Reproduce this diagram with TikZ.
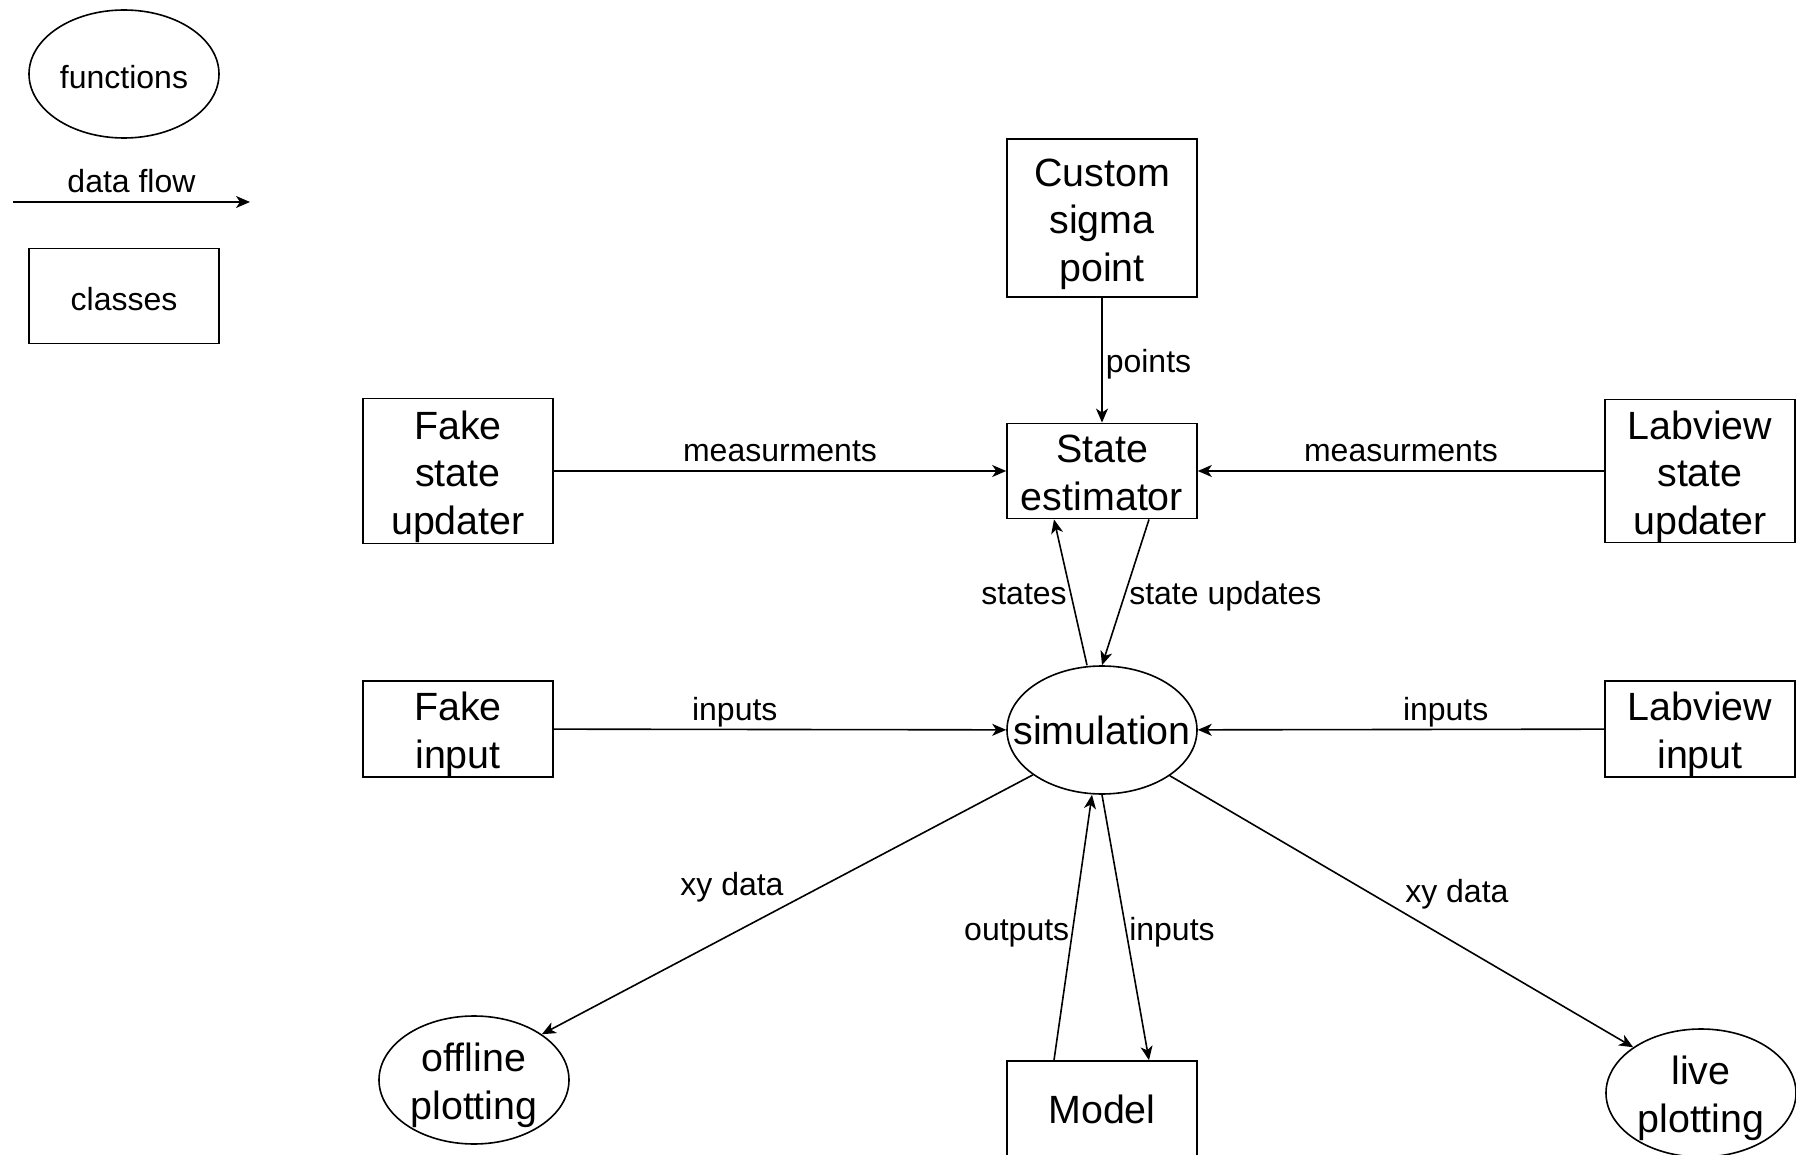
\documentclass[tikz,border=0pt]{standalone}
\usepackage{fontspec}
\setmainfont{Liberation Sans}
\usetikzlibrary{shapes.geometric,arrows.meta}
\newcommand{\boxfont}{\fontsize{19.7}{23.8}\selectfont}
\newcommand{\lblfont}{\fontsize{16}{19}\selectfont}
\newcommand{\fstrut}{\rule{0pt}{1em}}
\newcommand{\lstrut}{\rule[-0.21em]{0pt}{0.21em}}

\begin{document}
\begin{tikzpicture}[x=0.5pt, y=-0.5pt, line width=0.8pt,
	>={Stealth[length=7pt, width=6pt, inset=2pt]},
	cls/.style={draw, rectangle, minimum width=95pt, align=center, font=\boxfont, inner sep=0pt},
	fnshape/.style={draw, ellipse, minimum width=95pt, minimum height=64pt, inner sep=0pt},
	fn/.style={fnshape, label={[align=center, font=\boxfont]center:#1}},
	lbl/.style={font=\lblfont, text height=11.5pt, text depth=3.5pt, inner xsep=1.5pt, inner ysep=3pt, yshift=-2.3pt}]
	\useasboundingbox (0,0) rectangle (1796,1155);
	% legend
	\node[fnshape, font=\lblfont] (keyfn) at (124,74) {\rule{0pt}{0.92em}functions};
	\coordinate (flowA) at (13,202);
	\coordinate (flowB) at (250,202);
	\draw[->] (flowA) -- node[lbl, above] {data flow} (flowB);
	\node[cls, minimum height=47.5pt, font=\lblfont] (keycls) at (124,296) {\rule{0pt}{0.92em}classes};
	% classes and functions
	\node[cls, minimum height=79pt] (sigma) at (1102,218) {\fstrut Custom\\sigma\\point};
	\node[cls, minimum height=47.5pt] (est) at (1102,471) {\fstrut State\\estimator\lstrut};
	\node[cls, minimum height=72.5pt] (fsu) at (458,471) {\fstrut Fake\\state\\updater};
	\node[cls, minimum height=70pt] (lsu) at (1700,471) {\fstrut Labview\\state\\updater};
	\node[fn=simulation] (sim) at (1102,730) {};
	\node[cls, minimum height=48pt] (fin) at (458,729) {\fstrut Fake\\input};
	\node[cls, minimum height=48pt] (lin) at (1700,729) {\fstrut Labview\\input};
	\node[fn={\fstrut offline\\plotting}] (off) at (474,1080) {};
	\node[cls, minimum height=48pt] (model) at (1102,1109) {Model};
	\node[fn={\fstrut live\\plotting}] (live) at (1701,1093) {};
	% data flow
	\draw[->] (sigma) -- node[lbl, right] {points} (est);
	\draw[->] (fsu) -- node[lbl, above] {measurments} (est);
	\draw[->] (lsu) -- node[lbl, above] {measurments} (est);
	\draw[->] ([xshift=-7.5pt]sim.north) -- node[lbl, left] {states} ([xshift=-24pt]est.south);
	\draw[->] ([xshift=23.5pt]est.south) -- node[lbl, right] {state updates} (sim.north);
	\draw[->] (fin) -- node[lbl, above, pos=0.4] {inputs} (sim);
	\draw[->] (lin) -- node[lbl, above, pos=0.39] {inputs} (sim);
	\draw[->] (sim.213) -- node[lbl, above left] {xy data} (off.34);
	\draw[->] (sim.-34) -- node[lbl, above right] {xy data} (live.146);
	\draw[->] ([xshift=-24pt]model.north) -- node[lbl, left] {outputs} ([xshift=-5pt]sim.south);
	\draw[->] (sim.south) -- node[lbl, right] {inputs} ([xshift=23.5pt]model.north);
\end{tikzpicture}
\end{document}
